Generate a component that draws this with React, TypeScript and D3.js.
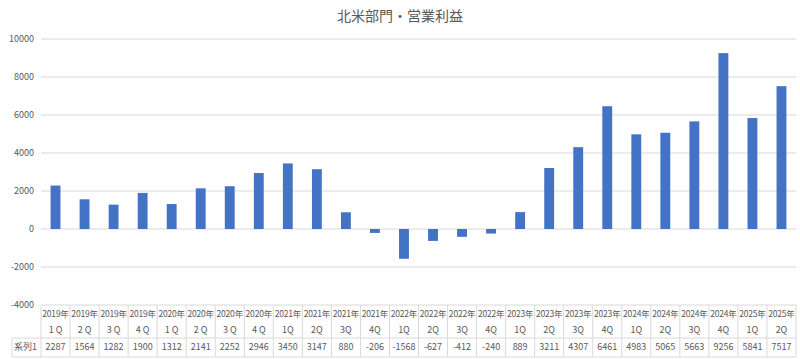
import React from "react";
import * as d3 from "d3";

const years = ["2019年","2019年","2019年","2019年","2020年","2020年","2020年","2020年","2021年","2021年","2021年","2021年","2022年","2022年","2022年","2022年","2023年","2023年","2023年","2023年","2024年","2024年","2024年","2024年","2025年","2025年"];
const quarters = ["1 Q","2 Q","3 Q","4 Q","1 Q","2 Q","3 Q","4 Q","1Q","2Q","3Q","4Q","1Q","2Q","3Q","4Q","1Q","2Q","3Q","4Q","1Q","2Q","3Q","4Q","1Q","2Q"];
const values = [2287,1564,1282,1900,1312,2141,2252,2946,3450,3147,880,-206,-1568,-627,-412,-240,889,3211,4307,6461,4983,5065,5663,9256,5841,7517];
const yTicks = [-4000,-2000,0,2000,4000,6000,8000,10000];
const seriesName = "系列1";
const title = "北米部門・営業利益";

const W = 800, H = 359;
const left = 41, right = 796, top = 39, bottom = 305;
const font = "'Noto Sans CJK JP', 'Noto Sans', sans-serif";
const textColor = "#595959";
const gridColor = "#d9d9d9";

export default function App() {
  const ids = values.map((_, i) => String(i));
  const x = d3.scaleBand<string>().domain(ids).range([left, right]).paddingInner(0.66).paddingOuter(0.33);
  const xCell = d3.scaleBand<string>().domain(ids).range([left, right]);
  const y = d3.scaleLinear().domain([-4000, 10000]).range([bottom, top]);
  const rowTop = bottom, rowMid = 338, rowBottom = 357;
  return (
    <svg width={W} height={H} style={{ position: "absolute", left: 0, top: 0, background: "#fff" }} fontFamily={font}>
      <rect x={0} y={0} width={W} height={H} fill="#fff" />
      <text x={400} y={21} textAnchor="middle" fontSize={14} fill={textColor}>{title}</text>
      {yTicks.map(t => (
        <g key={t}>
          <line x1={left} x2={right} y1={y(t)} y2={y(t)} stroke={gridColor} strokeWidth={1} />
          <text x={34} y={y(t) + 3} textAnchor="end" fontSize={9} fill={textColor}>{t}</text>
        </g>
      ))}
      {values.map((v, i) => (
        <rect key={i} x={x(String(i))} width={x.bandwidth()} y={Math.min(y(v), y(0))} height={Math.abs(y(v) - y(0))} fill="#4472C4" />
      ))}
      <line x1={12} x2={right} y1={rowMid} y2={rowMid} stroke={gridColor} />
      <line x1={12} x2={right} y1={rowBottom} y2={rowBottom} stroke={gridColor} />
      <line x1={12} x2={12} y1={rowMid} y2={rowBottom} stroke={gridColor} />
      <line x1={left} x2={left} y1={rowTop} y2={rowBottom} stroke={gridColor} />
      {ids.map((id, i) => {
        const cx = (xCell(id) as number) + xCell.bandwidth() / 2;
        const rx = (xCell(id) as number) + xCell.bandwidth();
        return (
          <g key={id}>
            <line x1={rx} x2={rx} y1={rowTop} y2={rowBottom} stroke={gridColor} />
            <text x={cx} y={317} textAnchor="middle" fontSize={8.5} letterSpacing={-0.2} fill={textColor}>{years[i]}</text>
            <text x={cx} y={333} textAnchor="middle" fontSize={9} fill={textColor} style={{ whiteSpace: "pre" }}>{quarters[i]}</text>
            <text x={cx} y={350} textAnchor="middle" fontSize={9} fill={textColor}>{values[i]}</text>
          </g>
        );
      })}
      <text x={14} y={350} fontSize={9} fill={textColor}>{seriesName}</text>
    </svg>
  );
}
